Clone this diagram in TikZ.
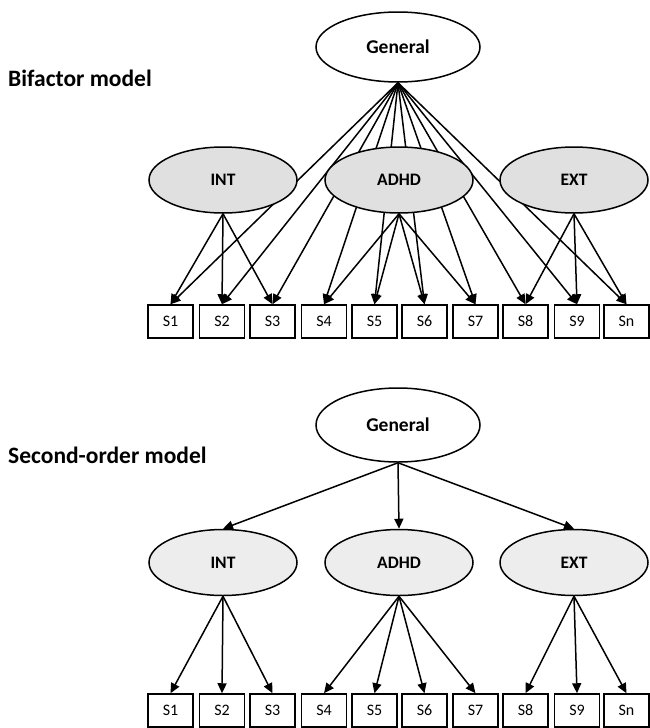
\documentclass[tikz,border=0pt]{standalone}
\usepackage{fontspec}
\setmainfont{Carlito}
\usetikzlibrary{shapes.geometric,arrows.meta}
\definecolor{facA}{gray}{0.88}
\definecolor{facB}{gray}{0.93}
\tikzset{
  lat/.style={ellipse,draw,line width=1.5pt,inner sep=0pt,minimum width=164pt,minimum height=70pt,font=\fontsize{19.5}{21}\selectfont\bfseries},
  fac/.style={ellipse,draw,line width=1.5pt,inner sep=0pt,minimum width=148pt,minimum height=66pt,font=\fontsize{17.5}{19}\selectfont\bfseries},
  obs/.style={rectangle,draw,line width=1.5pt,inner sep=0pt,minimum width=45pt,minimum height=33pt,font=\fontsize{16}{18}\selectfont},
  arr/.style={line width=1.5pt,-{Triangle[length=10pt,width=9pt]}},
  ttl/.style={anchor=base west,inner sep=0pt,font=\fontsize{23.5}{25}\selectfont\bfseries}
}
\begin{document}
\begin{tikzpicture}[x=1pt,y=-1pt]
\useasboundingbox (0,0) rectangle (649,728);
% titles
\node[ttl] (t1) at (8,86) {Bifactor model};
\node[ttl] (t2) at (8,463) {Second-order model};
% ---------------- Bifactor ----------------
\node[lat] (g1) at (398,47) {General};
\foreach \i/\x/\t in {1/170.5/S1,2/222/S2,3/272.5/S3,4/324/S4,5/374.5/S5,6/424.5/S6,7/475.5/S7,8/525.5/S8,9/577/S9,10/626.5/Sn}{
  \node[obs] (a\i) at (\x,321.5) {\t};
  \node[obs] (b\i) at (\x,710.5) {\t};
}
\foreach \i in {1,...,10}{
  \draw[arr] (g1.south) -- (a\i.north);
}
\node[fac,fill=facA] (int1) at (223,180) {INT};
\node[fac,fill=facA] (adhd1) at (399,180) {ADHD};
\node[fac,fill=facA] (ext1) at (574,180) {EXT};
\foreach \i in {1,2,3}{\draw[arr] (int1.south) -- (a\i.north);}
\foreach \i in {4,5,6,7}{\draw[arr] (adhd1.south) -- (a\i.north);}
\foreach \i in {8,9,10}{\draw[arr] (ext1.south) -- (a\i.north);}
% ---------------- Second-order ----------------
\node[lat,minimum height=74pt] (g2) at (398,425) {General};
\node[fac,fill=facB] (int2) at (223,562.5) {INT};
\node[fac,fill=facB] (adhd2) at (399,562.5) {ADHD};
\node[fac,fill=facB] (ext2) at (574,562.5) {EXT};
\draw[arr] (g2.south) -- (int2.north);
\draw[arr] (g2.south) -- (adhd2.north);
\draw[arr] (g2.south) -- (ext2.north);
\foreach \i in {1,2,3}{\draw[arr] (int2.south) -- (b\i.north);}
\foreach \i in {4,5,6,7}{\draw[arr] (adhd2.south) -- (b\i.north);}
\foreach \i in {8,9,10}{\draw[arr] (ext2.south) -- (b\i.north);}
\end{tikzpicture}
\end{document}
